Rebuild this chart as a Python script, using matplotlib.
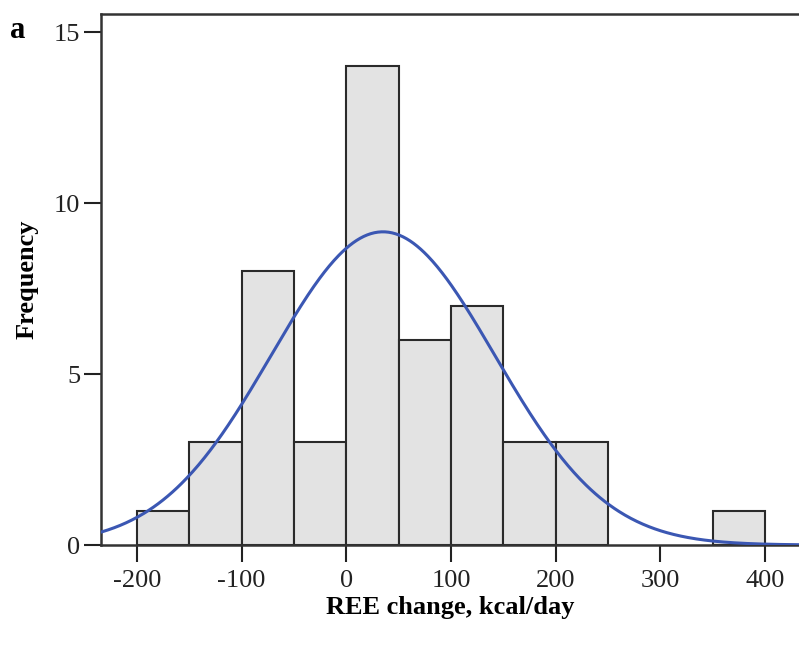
import numpy as np
import matplotlib
matplotlib.use("Agg")
import matplotlib.pyplot as plt

# Histogram data (bin left edges, width 50 kcal/day)
bin_lefts = [-200, -150, -100, -50, 0, 50, 100, 150, 200, 250, 300, 350]
counts = [1, 3, 8, 3, 14, 6, 7, 3, 3, 0, 0, 1]
bin_width = 50
# Normal curve parameters
mean_val = 35.0
sd_val = 106.7
n_total = sum(counts)

x_ticks = [-200, -100, 0, 100, 200, 300, 400]
y_ticks = [0, 5, 10, 15]

plt.rcParams['font.family'] = ['Liberation Serif', 'DejaVu Serif']
plt.rcParams['axes.unicode_minus'] = False

fig = plt.figure(figsize=(7.99, 6.49), dpi=100)
ax = fig.add_axes([0.1264, 0.1602, 0.8736, 0.8182])

for l, c in zip(bin_lefts, counts):
    if c > 0:
        ax.bar(l, c, width=bin_width, align='edge', color='#e3e3e3',
               edgecolor='#2a2a2a', linewidth=1.5, zorder=2)

xs = np.linspace(-240, 440, 600)
ys = n_total * bin_width / (sd_val * np.sqrt(2 * np.pi)) * np.exp(-0.5 * ((xs - mean_val) / sd_val) ** 2)
ax.plot(xs, ys, color='#3b57b3', linewidth=2.2, zorder=3)

ax.set_xlim(-234.4, 432.5)
ax.set_ylim(0, 15.53)
ax.set_xticks(x_ticks)
ax.set_yticks(y_ticks)
ax.tick_params(axis='both', direction='out', length=12, width=1.5,
               labelsize=19, colors='#222222', pad=3)
ax.tick_params(axis='x', pad=6)
for s in ['left', 'top', 'bottom']:
    ax.spines[s].set_linewidth(1.8)
    ax.spines[s].set_color('#333333')
ax.spines['right'].set_visible(False)

ax.set_xlabel('REE change, kcal/day', fontsize=19, fontweight='bold', labelpad=3)
ax.set_ylabel('Frequency', fontsize=19, fontweight='bold', labelpad=11)

fig.text(0.012, 0.975, 'a', fontsize=22, fontweight='bold', va='top', ha='left')

fig.savefig('out.png', dpi=100)
